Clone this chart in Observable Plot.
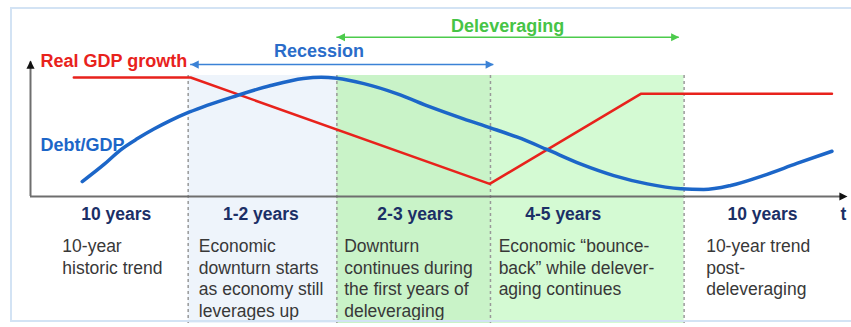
<!DOCTYPE html>
<html>
<head>
<meta charset="utf-8">
<script src="https://cdn.jsdelivr.net/npm/d3@7"></script>
<script src="https://cdn.jsdelivr.net/npm/@observablehq/plot@0.6"></script>
<style>
  html, body { margin: 0; padding: 0; background: #fff; }
  #wrap { position: relative; width: 851px; height: 327px; overflow: hidden; }
  #border { position: absolute; left: 10px; top: 7px; width: 900px; height: 315px;
            border: 2px solid #d3e3f4; border-right: none; box-sizing: border-box; pointer-events: none; }
</style>
</head>
<body>
<div id="wrap"><div id="chart"></div><div id="border"></div></div>
<script>
// ---- data (time t on 0..100, level v on 0..100) ----
const phaseLabels = ["10 years", "1-2 years", "2-3 years", "4-5 years", "10 years"];
const phaseStart  = [0, 19.3, 37.5, 56.3, 80];
const phaseEnd    = [19.3, 37.5, 56.3, 80, 100];
const labelAt     = [10.5, 28.2, 47.1, 65.2, 89.6];
const noteAt      = [3.9, 20.6, 38.4, 57.3, 82.7];
const notes = [
  "10-year\nhistoric trend",
  "Economic\ndownturn starts\nas economy still\nleverages up",
  "Downturn\ncontinues during\nthe first years of\ndeleveraging",
  "Economic \u201cbounce-\nback\u201d while delever-\naging continues",
  "10-year trend\npost-\ndeleveraging"
];

const gdpT = [5.3, 19.6, 56.2, 74.7, 98.1];
const gdpV = [87.5, 87.5, 9.3, 75.5, 75.5];

const debtT = [6.33, 9.0, 11.0, 13.1, 15.1, 17.1, 19.4, 25.3, 29.4, 33.4, 35.6, 37.5, 40.8, 44.9, 49.0, 53.0, 56.3, 59.6, 63.2, 67.3, 71.4, 75.5, 79.6, 82.4, 85.7, 89.7, 93.8, 98.1];
const debtV = [11.0, 23.6, 34.2, 42.6, 49.6, 55.8, 62.0, 74.3, 81.6, 86.8, 87.7, 86.9, 83.0, 75.5, 65.7, 57.1, 50.5, 43.6, 34.6, 24.0, 15.4, 9.3, 5.7, 5.1, 8.1, 15.4, 24.3, 33.3];

const spanNames = ["Recession", "Deleveraging"];
const spanFrom  = [19.6, 37.5];
const spanTo    = [56.7, 79.4];
const spanLevel = [97, 117.1];
const spanTextAt = [35.3, 58.4];
const spanTextLevel = [106.6, 125.4];

const seriesNames = ["Real GDP growth", "Debt/GDP"];
const seriesLabelT = [1.22, 1.22];
const seriesLabelV = [99.3, 37.5];

const axisLabel = "t";
const axisLabelT = 99.5;

// ---- build tables ----
const phases = phaseLabels.map((label, i) => ({label, start: phaseStart[i], end: phaseEnd[i], labelAt: labelAt[i], noteAt: noteAt[i], note: notes[i]}));
const shadeColors = [null, "#eef4fb", "#c9f3c8", "#d4fad3", null];
const shaded = phases.map((p, i) => ({...p, fill: shadeColors[i]})).filter(d => d.fill);
const dividers = phaseStart.slice(1);
const gdp = gdpT.map((t, i) => ({t, v: gdpV[i]}));
const debt = debtT.map((t, i) => ({t, v: debtV[i]}));
const spanColors = ["#3b82d6", "#4ccb4c"];
const spanTextColors = ["#2a6cc9", "#46c446"];
const spans = spanNames.map((name, i) => ({name, from: spanFrom[i], to: spanTo[i], level: spanLevel[i], tx: spanTextAt[i], ty: spanTextLevel[i], color: spanColors[i], tcolor: spanTextColors[i]}));
const seriesColors = ["#e8221c", "#1c66c8"];
const seriesLabels = seriesNames.map((name, i) => ({name, t: seriesLabelT[i], v: seriesLabelV[i], color: seriesColors[i]}));

// ---- arrowhead symbols (tip at origin) ----
const triRight = {draw(c, s) { const q = Math.sqrt(s) / 7; c.moveTo(0, 0); c.lineTo(-8 * q, -4 * q); c.lineTo(-8 * q, 4 * q); c.closePath(); }};
const triLeft  = {draw(c, s) { const q = Math.sqrt(s) / 7; c.moveTo(0, 0); c.lineTo(8 * q, -4 * q); c.lineTo(8 * q, 4 * q); c.closePath(); }};
const triUp    = {draw(c, s) { const q = Math.sqrt(s) / 7; c.moveTo(0, 0); c.lineTo(-4 * q, 8 * q); c.lineTo(4 * q, 8 * q); c.closePath(); }};

const font = "'Liberation Sans', Arial, Helvetica, sans-serif";

const chart = Plot.plot({
  width: 851,
  height: 327,
  marginLeft: 30,
  marginRight: 4,
  marginTop: 75,
  marginBottom: 4,
  x: {domain: [0, 100], axis: null},
  y: {domain: [-93.4, 89], axis: null},
  style: {fontFamily: font, overflow: "visible", background: "transparent"},
  marks: [
    Plot.rect(shaded, {x1: "start", x2: "end", fill: "fill"}),
    Plot.ruleX(dividers, {stroke: "#999", strokeWidth: 1.5, strokeDasharray: "3,3"}),
    // axes
    Plot.ruleY([0], {x1: 0, x2: 99.5, stroke: "#6e6e6e", strokeWidth: 2}),
    Plot.ruleX([0], {y1: 0, y2: 99, stroke: "#6e6e6e", strokeWidth: 2}),
    Plot.dot([{t: 100, v: 0}], {x: "t", y: "v", symbol: triRight, r: 4, fill: "#111", stroke: null}),
    Plot.dot([{t: 0, v: 100}], {x: "t", y: "v", symbol: triUp, r: 4, fill: "#111", stroke: null}),
    // series
    Plot.line(gdp, {x: "t", y: "v", stroke: seriesColors[0], strokeWidth: 2.5}),
    Plot.line(debt, {x: "t", y: "v", curve: "monotone-x", stroke: seriesColors[1], strokeWidth: 3.5}),
    // span arrows
    Plot.ruleY(spans, {y: "level", x1: "from", x2: "to", stroke: "color", strokeWidth: 1.5}),
    Plot.dot(spans, {x: "from", y: "level", symbol: triLeft, r: 4, fill: "color", stroke: null}),
    Plot.dot(spans, {x: "to", y: "level", symbol: triRight, r: 4, fill: "color", stroke: null}),
    Plot.text(spans, {x: "tx", y: "ty", text: "name", fill: "tcolor", fontSize: 18, fontWeight: "bold", textAnchor: "middle", lineAnchor: "middle"}),
    // series labels
    Plot.text(seriesLabels, {x: "t", y: "v", text: "name", fill: "color", fontSize: 18, fontWeight: "bold", textAnchor: "start", lineAnchor: "middle"}),
    // phase labels and notes
    Plot.text(phases, {x: "labelAt", text: "label", frameAnchor: "bottom", dy: -109, fill: "#1b2f66", fontSize: 17.5, fontWeight: "bold", textAnchor: "middle", lineAnchor: "middle"}),
    Plot.text([axisLabel], {x: axisLabelT, text: d => d, frameAnchor: "bottom", dy: -109, fill: "#1b2f66", fontSize: 17.5, fontWeight: "bold", textAnchor: "middle", lineAnchor: "middle"}),
    Plot.text(phases, {x: "noteAt", text: "note", frameAnchor: "bottom", dy: -86.5, fill: "#383838", fontSize: 17.5, textAnchor: "start", lineAnchor: "top", lineHeight: 1.23})
  ]
});
document.getElementById("chart").appendChild(chart);
</script>
</body>
</html>
